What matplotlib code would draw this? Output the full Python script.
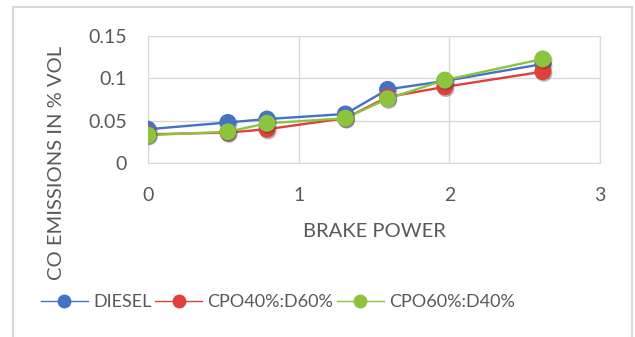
import matplotlib
matplotlib.use('Agg')
import matplotlib.pyplot as plt
import matplotlib.patheffects as pe
from matplotlib.lines import Line2D

# brake power (kW) and CO emissions (% vol) for each fuel blend
brake_power = [0.0, 0.53, 0.79, 1.31, 1.59, 1.97, 2.62]
diesel = [0.040, 0.048, 0.052, 0.058, 0.087, 0.097, 0.117]
cpo40_d60 = [0.034, 0.036, 0.040, 0.053, 0.078, 0.090, 0.108]
cpo60_d40 = [0.033, 0.037, 0.047, 0.053, 0.076, 0.098, 0.123]

series_names = ['DIESEL', 'CPO40%:D60%', 'CPO60%:D40%']
series_colors = ['#4472c4', '#e0403a', '#8cc43f']

x_ticks = [0, 1, 2, 3]
y_ticks = [0, 0.05, 0.1, 0.15]
y_tick_labels = ['0', '0.05', '0.1', '0.15']

plt.rcParams['font.family'] = ['Lato', 'DejaVu Sans']
text_color = '#595959'
grid_color = '#d9d9d9'

fig = plt.figure(figsize=(6.35, 3.37), dpi=100)
ax = fig.add_axes([0.233, 0.516, 0.712, 0.377])

# outer chart frame
fig.patches.append(plt.Rectangle((13 / 635, -0.05), 619 / 635, 1.05 - 7 / 337,
                                 transform=fig.transFigure, fill=False,
                                 edgecolor=grid_color, linewidth=1.5))

shadow = [pe.SimplePatchShadow(offset=(0.8, -1.2), shadow_rgbFace='#303030', alpha=0.35), pe.Normal()]
for ys, name, col in zip([diesel, cpo40_d60, cpo60_d40], series_names, series_colors):
    ax.plot(brake_power, ys, color=col, linewidth=1.7, zorder=3)
    ax.scatter(brake_power, ys, s=150, color=col, zorder=4, linewidths=0,
               path_effects=shadow)

ax.set_xlim(0, 3)
ax.set_ylim(0, 0.15)
ax.set_xticks(x_ticks)
ax.set_yticks(y_ticks)
ax.set_yticklabels(y_tick_labels)
ax.grid(True, color=grid_color, linewidth=1)
ax.set_axisbelow(True)
for s in ax.spines.values():
    s.set_color(grid_color)
ax.tick_params(length=0, labelsize=14, colors=text_color)
ax.tick_params(axis='y', pad=15)
ax.tick_params(axis='x', pad=17)
ax.set_xlabel('BRAKE POWER', fontsize=14.5, color=text_color, labelpad=14)

fig.text(57 / 635, 0.516, 'CO EMISSIONS IN % VOL', rotation=90, fontsize=14.5,
         color=text_color, ha='center', va='center')

handles = [Line2D([], [], color=c, linewidth=1, marker='o', markersize=10,
                  markeredgewidth=0) for c in series_colors]
leg = fig.legend(handles, series_names, loc='center', bbox_to_anchor=(278 / 635, 0.104), ncol=3,
                 frameon=False, fontsize=13, handlelength=2.6, columnspacing=0.2,
                 handletextpad=0.3, borderpad=0, borderaxespad=0)
for t in leg.get_texts():
    t.set_color(text_color)

fig.savefig('out.png', dpi=100)
